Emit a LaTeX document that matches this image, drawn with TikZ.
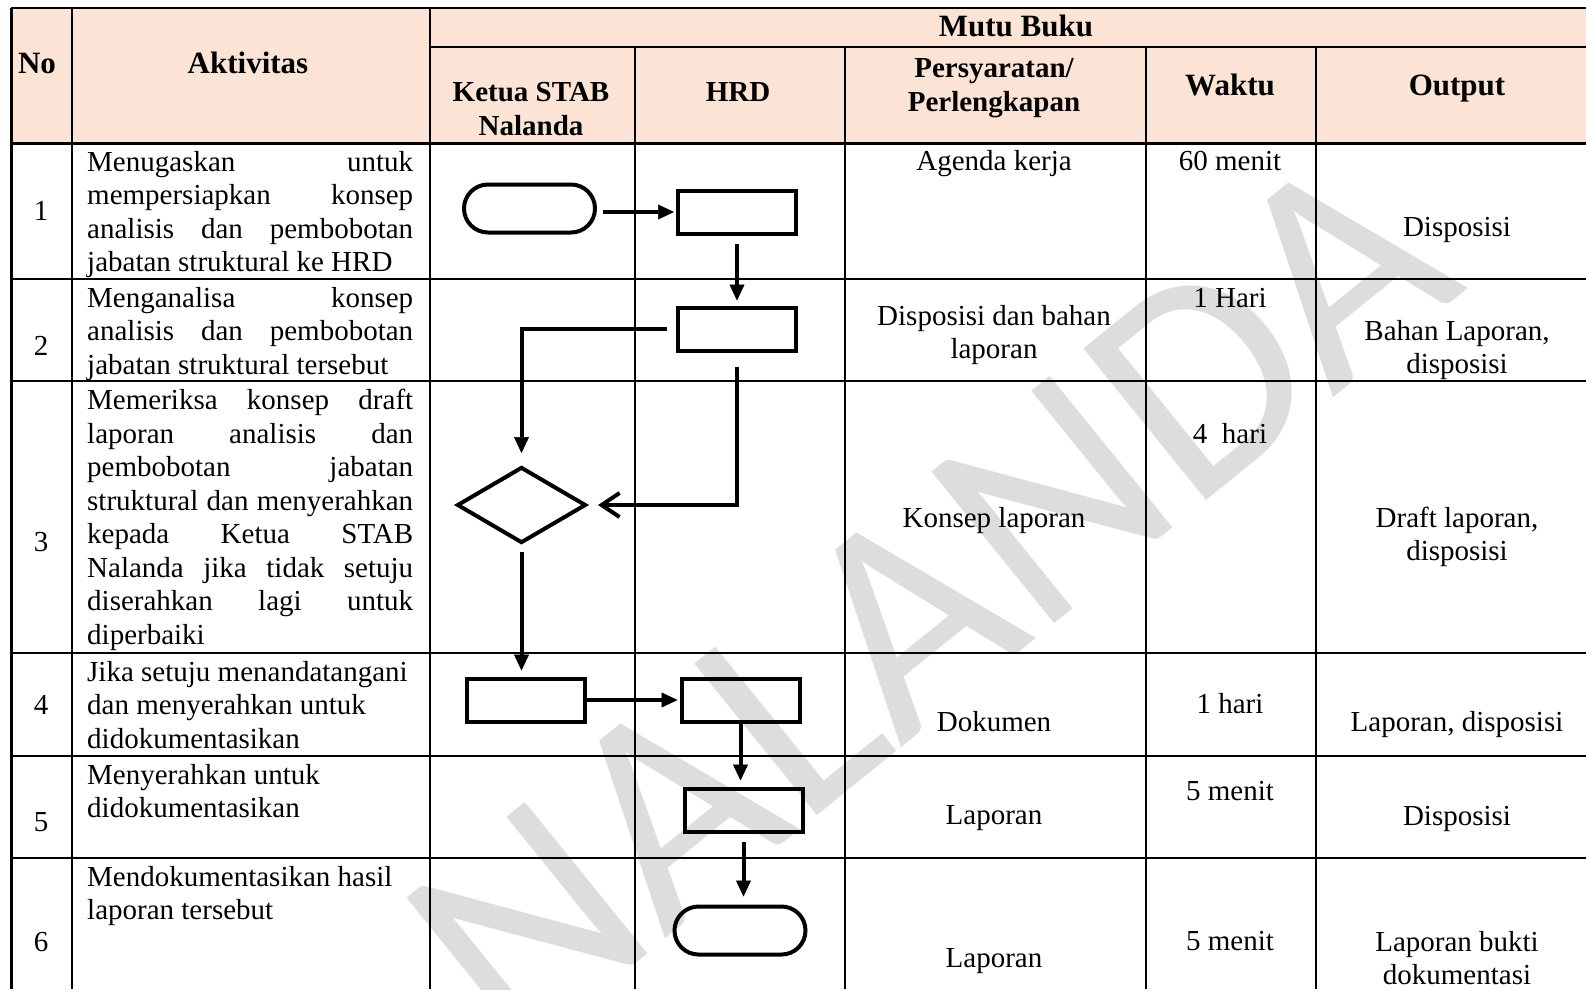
\documentclass[tikz,border=0pt]{standalone}
\usepackage{fontspec}
\setmainfont{Liberation Serif}
\newfontfamily\wmfont{Carlito}
\usetikzlibrary{arrows.meta,positioning,calc,shapes.geometric,shapes.misc}

\definecolor{headfill}{RGB}{251,228,213}
\definecolor{wmgray}{RGB}{221,221,221}

\newcommand\bodyfont{\fontsize{29}{33.5}\selectfont}
\newcommand\headfont{\fontsize{29}{34.5}\selectfont\bfseries}
\newcommand\bigfont{\fontsize{31}{35}\selectfont\bfseries}
\tolerance=10000
\hyphenpenalty=10000

\begin{document}
\begin{tikzpicture}[
  x=1pt, y=-1pt,
  grid/.style={line width=2pt},
  cell/.style={font=\bodyfont, align=center, inner sep=0pt},
  akt/.style={font=\bodyfont, anchor=north west, inner sep=0pt, text width=326pt, align=justify},
  aktl/.style={font=\bodyfont, anchor=north west, inner sep=0pt, align=left},
  head/.style={font=\headfont, align=center, inner sep=0pt},
  bighead/.style={font=\bigfont, align=center, inner sep=0pt},
  box/.style={draw, line width=4pt, rectangle, minimum width=118pt, minimum height=43pt, inner sep=0pt},
  term/.style={draw, line width=4pt, rounded rectangle, minimum width=131pt, minimum height=48pt, inner sep=0pt},
  dec/.style={draw, line width=4pt, diamond, minimum width=129pt, minimum height=76pt, inner sep=0pt},
  arr/.style={-{Triangle[length=16pt, width=15pt, line width=0.5pt]}, line width=4pt},
  barb/.style={-{Straight Barb[length=18pt, width=24pt]}, line width=4pt}
]
\useasboundingbox (0,0) rectangle (1586,989);

% header background
\fill[headfill] (12,8) rectangle (1586,143);

% watermark
\node[font=\wmfont\fontsize{304}{304}\selectfont, text=wmgray, rotate=39, inner sep=0pt] (wm) at (929,600) {NALANDA};

% table lines
\draw[grid] (11,8) -- (1586,8);
\draw[line width=3pt] (11.5,8) -- (11.5,989);
\draw[grid] (72,8) -- (72,989);
\draw[grid] (430,8) -- (430,989);
\draw[grid] (430,47) -- (1586,47);
\draw[grid] (635,47) -- (635,989);
\draw[grid] (845,47) -- (845,989);
\draw[grid] (1146,47) -- (1146,989);
\draw[grid] (1316,47) -- (1316,989);
\draw[line width=3pt] (11,143) -- (1586,143);
\draw[grid] (11,279) -- (1586,279);
\draw[grid] (11,381) -- (1586,381);
\draw[grid] (11,653) -- (1586,653);
\draw[grid] (11,756) -- (1586,756);
\draw[grid] (11,858) -- (1586,858);

% header
\node[bighead] (hno) at (37,63) {No};
\node[bighead] (hakt) at (248,63) {Aktivitas};
\node[bighead] (hmutu) at (1016,26) {Mutu Buku};
\node[head] (hketua) at (531,109) {Ketua STAB\\Nalanda};
\node[head] (hhrd) at (738,92) {HRD};
\node[head] (hsyarat) at (994,88) {Persyaratan/\\Perlengkapan};
\node[bighead] (hwaktu) at (1230,85) {Waktu};
\node[bighead] (hout) at (1457,89) {Output};

% nomor
\node[cell] (no1) at (41,211) {1};
\node[cell] (no2) at (41,346) {2};
\node[cell] (no3) at (41,542) {3};
\node[cell] (no4) at (41,705) {4};
\node[cell] (no5) at (41,822) {5};
\node[cell] (no6) at (41,942) {6};

% aktivitas
\node[akt] (akt1) at (87,151) {Menugaskan untuk\linebreak mempersiapkan konsep\linebreak analisis dan pembobotan\linebreak jabatan struktural ke HRD};
\node[akt] (akt2) at (87,287) {Menganalisa konsep\linebreak analisis dan pembobotan\linebreak jabatan struktural tersebut};
\node[akt] (akt3) at (87,389) {Memeriksa konsep draft\linebreak laporan analisis dan\linebreak pembobotan jabatan\linebreak struktural dan menyerahkan\linebreak kepada Ketua STAB\linebreak Nalanda jika tidak setuju\linebreak diserahkan lagi untuk\linebreak diperbaiki};
\node[aktl] (akt4) at (87,661) {Jika setuju menandatangani\\dan menyerahkan untuk\\didokumentasikan};
\node[aktl] (akt5) at (87,764) {Menyerahkan untuk\\didokumentasikan};
\node[aktl] (akt6) at (87,866) {Mendokumentasikan hasil\\laporan tersebut};

% persyaratan
\node[cell] (syarat1) at (994,164) {Agenda kerja};
\node[cell] (syarat2) at (994,335) {Disposisi dan bahan\\laporan};
\node[cell] (syarat3) at (994,521) {Konsep laporan};
\node[cell] (syarat4) at (994,722) {Dokumen};
\node[cell] (syarat5) at (994,818) {Laporan};
\node[cell] (syarat6) at (994,961) {Laporan};

% waktu
\node[cell] (waktu1) at (1230,161) {60 menit};
\node[cell] (waktu2) at (1230,298) {1 Hari};
\node[cell] (waktu3) at (1230,434) {4\ \ hari};
\node[cell] (waktu4) at (1230,704) {1 hari};
\node[cell] (waktu5) at (1230,791) {5 menit};
\node[cell] (waktu6) at (1230,941) {5 menit};

% output
\node[cell] (out1) at (1457,230) {Disposisi};
\node[cell] (out2) at (1457,350) {Bahan Laporan,\\disposisi};
\node[cell] (out3) at (1457,537) {Draft laporan,\\disposisi};
\node[cell] (out4) at (1457,725) {Laporan, disposisi};
\node[cell] (out5) at (1457,819) {Disposisi};
\node[cell] (out6) at (1457,958) {Laporan bukti\\dokumentasi};

% flow
\node[term] (start) at (529.5,208.5) {};
\node[box] (hrd1) at (737,212) {};
\node[box] (hrd2) at (737,329) {};
\node[dec] (cek) at (521.5,505) {};
\node[box] (ttd) at (526,700) {};
\node[box] (hrd4) at (740.5,700) {};
\node[box] (hrd5) at (743.5,810) {};
\node[term] (stop) at (740,930.5) {};

\draw[arr, shorten <=6pt, shorten >=2pt] (start.east |- hrd1.west) -- (hrd1.west);
\draw[arr, shorten <=8pt, shorten >=5pt] (hrd1.south) -- (hrd2.north);
\draw[arr, shorten <=9pt, shorten >=12pt] (hrd2.west) -| (cek.north);
\draw[barb, shorten <=14pt, shorten >=10pt] (hrd2.south) |- (cek.east);
\draw[arr, shorten <=7pt, shorten >=6pt] (cek.south) -- (cek.south |- ttd.north);
\draw[arr, shorten >=2pt] (ttd.east) -- (hrd4.west);
\draw[arr, shorten >=6pt] (hrd4.south) -- (hrd4.south |- hrd5.north);
\draw[arr, shorten <=8pt, shorten >=8pt] (hrd5.south) -- (hrd5.south |- stop.north);
\end{tikzpicture}
\end{document}
